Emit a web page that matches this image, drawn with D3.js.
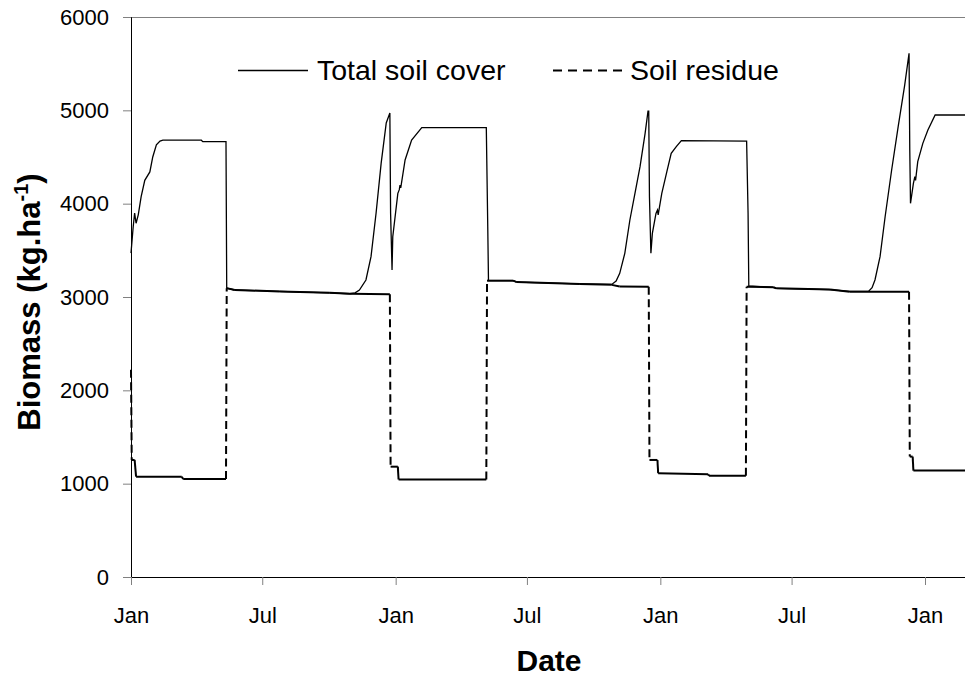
<!DOCTYPE html>
<html><head><meta charset="utf-8">
<script src="https://cdn.jsdelivr.net/npm/d3@7/dist/d3.min.js"></script>
<style>body{margin:0;background:#fff}svg{display:block}text{font-family:"Liberation Sans",Arial,sans-serif;fill:#000}</style>
</head><body>
<svg id="c" width="965" height="677"></svg>
<script>
// ---- data ----
const totalDates = ["2001-01-01","2001-01-04","2001-01-06","2001-01-08","2001-01-11","2001-01-15","2001-01-20","2001-01-27","2001-01-31","2001-02-05","2001-02-10","2001-02-14","2001-04-08","2001-04-10","2001-05-12","2001-05-13","2001-05-24","2001-07-25","2001-10-02","2001-10-30","2001-11-06","2001-11-12","2001-11-21","2001-11-28","2001-12-05","2001-12-12","2001-12-19","2001-12-24","2001-12-25","2001-12-27","2001-12-28","2002-01-04","2002-01-06","2002-01-07","2002-01-08","2002-01-14","2002-01-23","2002-02-06","2002-05-06","2002-05-08","2002-05-09","2002-06-12","2002-06-17","2002-09-12","2002-10-26","2002-11-01","2002-11-06","2002-11-13","2002-11-20","2002-11-27","2002-12-04","2002-12-11","2002-12-15","2002-12-16","2002-12-17","2002-12-19","2002-12-21","2002-12-26","2002-12-28","2002-12-29","2003-01-03","2003-01-10","2003-01-16","2003-01-23","2003-01-30","2003-04-30","2003-05-02","2003-05-03","2003-06-06","2003-06-10","2003-08-23","2003-09-19","2003-10-15","2003-10-20","2003-10-24","2003-10-31","2003-11-07","2003-11-16","2003-11-25","2003-12-04","2003-12-10","2003-12-11","2003-12-12","2003-12-16","2003-12-18","2003-12-19","2003-12-22","2003-12-29","2004-01-05","2004-01-15","2004-02-29"];
const totalValues = [3470,3750,3900,3790,3880,4075,4250,4340,4500,4630,4670,4680,4680,4665,4665,3095,3075,3060,3045,3035,3045,3075,3182,3432,3900,4435,4864,4971,3900,3290,3646,4111,4150,4200,4170,4468,4682,4814,4814,3753,3175,3175,3160,3140,3135,3170,3254,3468,3825,4111,4396,4754,4990,4990,4075,3468,3682,3896,3932,3880,4111,4343,4539,4611,4675,4671,3896,3118,3104,3093,3080,3060,3060,3100,3182,3432,3860,4361,4825,5271,5611,4575,4004,4218,4289,4250,4450,4646,4789,4950,4950];

const residueDates = ["2001-01-01","2001-01-02","2001-01-06","2001-01-08","2001-03-12","2001-03-14","2001-05-12","2001-05-13","2001-05-24","2001-07-25","2001-10-02","2001-10-30","2001-12-24","2001-12-25","2002-01-04","2002-01-05","2002-05-06","2002-05-07","2002-06-12","2002-06-17","2002-09-12","2002-10-26","2002-11-06","2002-12-16","2002-12-17","2002-12-28","2002-12-29","2003-03-08","2003-03-09","2003-04-29","2003-04-30","2003-06-06","2003-06-10","2003-08-23","2003-09-19","2003-12-10","2003-12-11","2003-12-15","2003-12-16","2004-02-29"];
const residueValues = [2220,1254,1254,1075,1075,1050,1050,3095,3075,3060,3045,3035,3030,1182,1182,1045,1045,3175,3175,3160,3140,3130,3112,3111,1254,1254,1111,1100,1086,1086,3110,3104,3093,3080,3057,3057,1290,1290,1140,1140];

const yTicks = [0,1000,2000,3000,4000,5000,6000];
const seriesNames = ["Total soil cover","Soil residue"];

// ---- chart ----
const parse = d3.timeParse("%Y-%m-%d");
const total = totalDates.map((d,i)=>({date:parse(d), v:totalValues[i]}));
const residue = residueDates.map((d,i)=>({date:parse(d), v:residueValues[i]}));

const svg = d3.select("#c");
const plotLeft = 131, plotTop = 17, plotBottom = 577;
const x = d3.scaleTime().domain([new Date(2001,0,1), new Date(2004,0,1)]).range([131, 925]);
const y = d3.scaleLinear().domain([0,6000]).range([plotBottom, plotTop]);

// top border of plot area
svg.append("line").attr("x1",plotLeft).attr("x2",965).attr("y1",plotTop+0.5).attr("y2",plotTop+0.5)
  .attr("stroke","#808080").attr("stroke-width",1);

const line = d3.line().x(d=>x(d.date)).y(d=>y(d.v));

// residue: each step drawn as its own segment, the jumps dashed
const segs = d3.pairs(residue);
svg.append("g").selectAll("path").data(segs).join("path")
  .attr("d", p=>line(p))
  .attr("fill","none").attr("stroke","#000").attr("stroke-width",2)
  .attr("stroke-dasharray", p=>Math.abs(p[1].v-p[0].v)>500 ? "8,4.5" : null);

svg.append("path").datum(total).attr("d",line)
  .attr("fill","none").attr("stroke","#000").attr("stroke-width",1.3);

// axes
const yAxis = d3.axisLeft(y).tickValues(yTicks).tickSize(8).tickPadding(14).tickFormat(d3.format("d"));
const gy = svg.append("g").attr("transform",`translate(${plotLeft},0)`).call(yAxis);
gy.select(".domain").attr("stroke","#000");
gy.selectAll(".tick line").attr("stroke","#808080");
gy.selectAll("text").attr("font-size",22).attr("font-family","Liberation Sans, Arial, sans-serif");

const xTicks = d3.timeMonth.every(6).range(new Date(2001,0,1), new Date(2004,0,2));
const xAxis = d3.axisBottom(x).tickValues(xTicks).tickSize(8).tickPadding(22).tickFormat(d3.timeFormat("%b"));
const gx = svg.append("g").attr("transform",`translate(0,${plotBottom})`).call(xAxis);
gx.select(".domain").attr("stroke","#000").attr("d",`M${plotLeft},0.5H965`);
gx.selectAll(".tick line").attr("stroke","#808080");
gx.selectAll("text").attr("font-size",22).attr("font-family","Liberation Sans, Arial, sans-serif");

// axis titles
svg.append("text").attr("x",549).attr("y",671).attr("text-anchor","middle")
  .attr("font-size",30).attr("font-weight","bold").text("Date");
const yt = svg.append("text").attr("transform","translate(40,302) rotate(-90)").attr("text-anchor","middle")
  .attr("font-size",31).attr("font-weight","bold");
yt.append("tspan").text("Biomass (kg.ha");
yt.append("tspan").attr("font-size",20).attr("dy",-12).text("-1");
yt.append("tspan").attr("dy",12).text(")");

// legend
svg.append("line").attr("x1",238).attr("x2",308).attr("y1",70.5).attr("y2",70.5).attr("stroke","#000").attr("stroke-width",1.3);
svg.append("text").attr("x",317).attr("y",80).attr("font-size",28.5).text(seriesNames[0]);
svg.append("line").attr("x1",553).attr("x2",626).attr("y1",70.5).attr("y2",70.5).attr("stroke","#000").attr("stroke-width",2).attr("stroke-dasharray","9,6");
svg.append("text").attr("x",630).attr("y",80).attr("font-size",28.5).text(seriesNames[1]);
</script>
</body></html>
